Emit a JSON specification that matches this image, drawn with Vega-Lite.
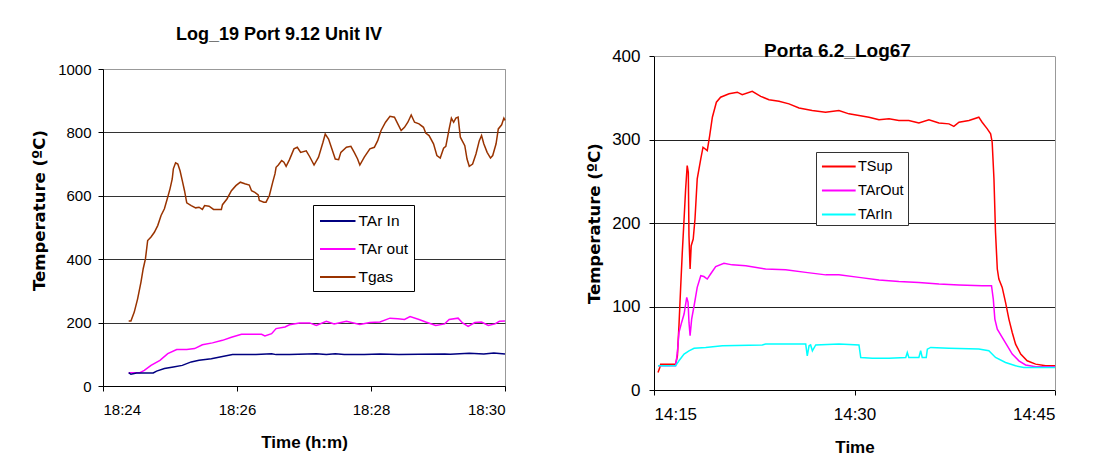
{
"$schema": "https://vega.github.io/schema/vega-lite/v6.json",
"background": "white",
"padding": {"left": 30, "top": 25, "right": 5, "bottom": 5},
"spacing": 77,
"resolve": {"scale": {"color": "independent"}},
"config": {
  "font": "Liberation Sans",
  "view": {"stroke": "#999", "strokeWidth": 1},
  "axis": {"domainColor": "#000", "tickColor": "#000", "labelColor": "#000", "titleColor": "#000", "labelFont": "Liberation Sans", "titleFont": "Liberation Sans", "titleFontWeight": "bold", "tickSize": 5},
  "title": {"font": "Liberation Sans", "fontWeight": "bold", "color": "#000"},
  "legend": {"strokeColor": "#000", "fillColor": "#fff", "padding": 5, "symbolType": "M-0.9,0H2.65", "symbolStrokeWidth": 2, "labelFont": "Liberation Sans", "labelColor": "#000"}
},
"hconcat": [
{
  "width": 402, "height": 317,
  "title": {"text": "Log_19 Port 9.12 Unit IV", "fontSize": 18, "dx": -25, "offset": 18},
  "data": {"values": [
{"t":"2000-01-01T18:24:23","s":"Tgas","v":205},{"t":"2000-01-01T18:24:25","s":"Tgas","v":205},{"t":"2000-01-01T18:24:28","s":"Tgas","v":233},{"t":"2000-01-01T18:24:31","s":"Tgas","v":275},{"t":"2000-01-01T18:24:34","s":"Tgas","v":328},{"t":"2000-01-01T18:24:36","s":"Tgas","v":370},{"t":"2000-01-01T18:24:38","s":"Tgas","v":401},{"t":"2000-01-01T18:24:40","s":"Tgas","v":459},{"t":"2000-01-01T18:24:43","s":"Tgas","v":470},{"t":"2000-01-01T18:24:46","s":"Tgas","v":485},{"t":"2000-01-01T18:24:49","s":"Tgas","v":506},{"t":"2000-01-01T18:24:52","s":"Tgas","v":538},{"t":"2000-01-01T18:24:55","s":"Tgas","v":559},{"t":"2000-01-01T18:24:58","s":"Tgas","v":596},{"t":"2000-01-01T18:25:00","s":"Tgas","v":622},{"t":"2000-01-01T18:25:02","s":"Tgas","v":653},{"t":"2000-01-01T18:25:03","s":"Tgas","v":685},{"t":"2000-01-01T18:25:05","s":"Tgas","v":704},{"t":"2000-01-01T18:25:07","s":"Tgas","v":700},{"t":"2000-01-01T18:25:09","s":"Tgas","v":679},{"t":"2000-01-01T18:25:11","s":"Tgas","v":648},{"t":"2000-01-01T18:25:13","s":"Tgas","v":616},{"t":"2000-01-01T18:25:15","s":"Tgas","v":578},{"t":"2000-01-01T18:25:19","s":"Tgas","v":569},{"t":"2000-01-01T18:25:23","s":"Tgas","v":562},{"t":"2000-01-01T18:25:26","s":"Tgas","v":564},{"t":"2000-01-01T18:25:29","s":"Tgas","v":557},{"t":"2000-01-01T18:25:31","s":"Tgas","v":569},{"t":"2000-01-01T18:25:35","s":"Tgas","v":567},{"t":"2000-01-01T18:25:39","s":"Tgas","v":557},{"t":"2000-01-01T18:25:43","s":"Tgas","v":557},{"t":"2000-01-01T18:25:46","s":"Tgas","v":557},{"t":"2000-01-01T18:25:47","s":"Tgas","v":572},{"t":"2000-01-01T18:25:51","s":"Tgas","v":590},{"t":"2000-01-01T18:25:55","s":"Tgas","v":616},{"t":"2000-01-01T18:25:59","s":"Tgas","v":632},{"t":"2000-01-01T18:26:03","s":"Tgas","v":643},{"t":"2000-01-01T18:26:07","s":"Tgas","v":638},{"t":"2000-01-01T18:26:11","s":"Tgas","v":634},{"t":"2000-01-01T18:26:13","s":"Tgas","v":616},{"t":"2000-01-01T18:26:16","s":"Tgas","v":611},{"t":"2000-01-01T18:26:19","s":"Tgas","v":603},{"t":"2000-01-01T18:26:20","s":"Tgas","v":585},{"t":"2000-01-01T18:26:24","s":"Tgas","v":580},{"t":"2000-01-01T18:26:26","s":"Tgas","v":580},{"t":"2000-01-01T18:26:29","s":"Tgas","v":601},{"t":"2000-01-01T18:26:32","s":"Tgas","v":643},{"t":"2000-01-01T18:26:34","s":"Tgas","v":669},{"t":"2000-01-01T18:26:35","s":"Tgas","v":690},{"t":"2000-01-01T18:26:37","s":"Tgas","v":697},{"t":"2000-01-01T18:26:40","s":"Tgas","v":711},{"t":"2000-01-01T18:26:42","s":"Tgas","v":706},{"t":"2000-01-01T18:26:44","s":"Tgas","v":693},{"t":"2000-01-01T18:26:47","s":"Tgas","v":714},{"t":"2000-01-01T18:26:51","s":"Tgas","v":748},{"t":"2000-01-01T18:26:54","s":"Tgas","v":753},{"t":"2000-01-01T18:26:57","s":"Tgas","v":737},{"t":"2000-01-01T18:27:02","s":"Tgas","v":742},{"t":"2000-01-01T18:27:05","s":"Tgas","v":724},{"t":"2000-01-01T18:27:09","s":"Tgas","v":697},{"t":"2000-01-01T18:27:13","s":"Tgas","v":722},{"t":"2000-01-01T18:27:17","s":"Tgas","v":769},{"t":"2000-01-01T18:27:19","s":"Tgas","v":795},{"t":"2000-01-01T18:27:22","s":"Tgas","v":779},{"t":"2000-01-01T18:27:25","s":"Tgas","v":748},{"t":"2000-01-01T18:27:28","s":"Tgas","v":716},{"t":"2000-01-01T18:27:31","s":"Tgas","v":714},{"t":"2000-01-01T18:27:33","s":"Tgas","v":737},{"t":"2000-01-01T18:27:38","s":"Tgas","v":753},{"t":"2000-01-01T18:27:42","s":"Tgas","v":756},{"t":"2000-01-01T18:27:45","s":"Tgas","v":737},{"t":"2000-01-01T18:27:48","s":"Tgas","v":716},{"t":"2000-01-01T18:27:50","s":"Tgas","v":697},{"t":"2000-01-01T18:27:54","s":"Tgas","v":722},{"t":"2000-01-01T18:27:59","s":"Tgas","v":748},{"t":"2000-01-01T18:28:03","s":"Tgas","v":753},{"t":"2000-01-01T18:28:06","s":"Tgas","v":774},{"t":"2000-01-01T18:28:09","s":"Tgas","v":806},{"t":"2000-01-01T18:28:13","s":"Tgas","v":832},{"t":"2000-01-01T18:28:17","s":"Tgas","v":851},{"t":"2000-01-01T18:28:21","s":"Tgas","v":848},{"t":"2000-01-01T18:28:24","s":"Tgas","v":827},{"t":"2000-01-01T18:28:27","s":"Tgas","v":806},{"t":"2000-01-01T18:28:30","s":"Tgas","v":816},{"t":"2000-01-01T18:28:33","s":"Tgas","v":832},{"t":"2000-01-01T18:28:36","s":"Tgas","v":855},{"t":"2000-01-01T18:28:39","s":"Tgas","v":832},{"t":"2000-01-01T18:28:43","s":"Tgas","v":827},{"t":"2000-01-01T18:28:47","s":"Tgas","v":816},{"t":"2000-01-01T18:28:49","s":"Tgas","v":798},{"t":"2000-01-01T18:28:52","s":"Tgas","v":790},{"t":"2000-01-01T18:28:56","s":"Tgas","v":764},{"t":"2000-01-01T18:28:59","s":"Tgas","v":727},{"t":"2000-01-01T18:29:02","s":"Tgas","v":719},{"t":"2000-01-01T18:29:05","s":"Tgas","v":750},{"t":"2000-01-01T18:29:07","s":"Tgas","v":756},{"t":"2000-01-01T18:29:10","s":"Tgas","v":811},{"t":"2000-01-01T18:29:12","s":"Tgas","v":845},{"t":"2000-01-01T18:29:14","s":"Tgas","v":832},{"t":"2000-01-01T18:29:16","s":"Tgas","v":845},{"t":"2000-01-01T18:29:18","s":"Tgas","v":848},{"t":"2000-01-01T18:29:20","s":"Tgas","v":785},{"t":"2000-01-01T18:29:24","s":"Tgas","v":758},{"t":"2000-01-01T18:29:26","s":"Tgas","v":716},{"t":"2000-01-01T18:29:28","s":"Tgas","v":693},{"t":"2000-01-01T18:29:31","s":"Tgas","v":700},{"t":"2000-01-01T18:29:34","s":"Tgas","v":732},{"t":"2000-01-01T18:29:37","s":"Tgas","v":774},{"t":"2000-01-01T18:29:39","s":"Tgas","v":790},{"t":"2000-01-01T18:29:41","s":"Tgas","v":764},{"t":"2000-01-01T18:29:44","s":"Tgas","v":737},{"t":"2000-01-01T18:29:47","s":"Tgas","v":719},{"t":"2000-01-01T18:29:49","s":"Tgas","v":727},{"t":"2000-01-01T18:29:52","s":"Tgas","v":764},{"t":"2000-01-01T18:29:54","s":"Tgas","v":811},{"t":"2000-01-01T18:29:57","s":"Tgas","v":824},{"t":"2000-01-01T18:29:59","s":"Tgas","v":845},{"t":"2000-01-01T18:30:00","s":"Tgas","v":838},
{"t":"2000-01-01T18:24:23","s":"TAr out","v":42},{"t":"2000-01-01T18:24:33","s":"TAr out","v":42},{"t":"2000-01-01T18:24:37","s":"TAr out","v":49},{"t":"2000-01-01T18:24:43","s":"TAr out","v":65},{"t":"2000-01-01T18:24:51","s":"TAr out","v":81},{"t":"2000-01-01T18:24:58","s":"TAr out","v":102},{"t":"2000-01-01T18:25:06","s":"TAr out","v":115},{"t":"2000-01-01T18:25:15","s":"TAr out","v":115},{"t":"2000-01-01T18:25:22","s":"TAr out","v":118},{"t":"2000-01-01T18:25:29","s":"TAr out","v":130},{"t":"2000-01-01T18:25:38","s":"TAr out","v":136},{"t":"2000-01-01T18:25:47","s":"TAr out","v":144},{"t":"2000-01-01T18:25:55","s":"TAr out","v":154},{"t":"2000-01-01T18:26:04","s":"TAr out","v":163},{"t":"2000-01-01T18:26:22","s":"TAr out","v":163},{"t":"2000-01-01T18:26:25","s":"TAr out","v":158},{"t":"2000-01-01T18:26:31","s":"TAr out","v":165},{"t":"2000-01-01T18:26:35","s":"TAr out","v":181},{"t":"2000-01-01T18:26:43","s":"TAr out","v":186},{"t":"2000-01-01T18:26:47","s":"TAr out","v":193},{"t":"2000-01-01T18:26:56","s":"TAr out","v":199},{"t":"2000-01-01T18:27:05","s":"TAr out","v":199},{"t":"2000-01-01T18:27:11","s":"TAr out","v":191},{"t":"2000-01-01T18:27:20","s":"TAr out","v":204},{"t":"2000-01-01T18:27:27","s":"TAr out","v":196},{"t":"2000-01-01T18:27:38","s":"TAr out","v":204},{"t":"2000-01-01T18:27:50","s":"TAr out","v":194},{"t":"2000-01-01T18:27:59","s":"TAr out","v":200},{"t":"2000-01-01T18:28:08","s":"TAr out","v":202},{"t":"2000-01-01T18:28:17","s":"TAr out","v":214},{"t":"2000-01-01T18:28:24","s":"TAr out","v":212},{"t":"2000-01-01T18:28:30","s":"TAr out","v":210},{"t":"2000-01-01T18:28:35","s":"TAr out","v":219},{"t":"2000-01-01T18:28:43","s":"TAr out","v":210},{"t":"2000-01-01T18:28:49","s":"TAr out","v":202},{"t":"2000-01-01T18:28:58","s":"TAr out","v":191},{"t":"2000-01-01T18:29:06","s":"TAr out","v":196},{"t":"2000-01-01T18:29:10","s":"TAr out","v":210},{"t":"2000-01-01T18:29:18","s":"TAr out","v":214},{"t":"2000-01-01T18:29:22","s":"TAr out","v":199},{"t":"2000-01-01T18:29:27","s":"TAr out","v":188},{"t":"2000-01-01T18:29:33","s":"TAr out","v":200},{"t":"2000-01-01T18:29:39","s":"TAr out","v":202},{"t":"2000-01-01T18:29:45","s":"TAr out","v":191},{"t":"2000-01-01T18:29:51","s":"TAr out","v":196},{"t":"2000-01-01T18:29:55","s":"TAr out","v":204},{"t":"2000-01-01T18:30:00","s":"TAr out","v":205},
{"t":"2000-01-01T18:24:23","s":"TAr In","v":42},{"t":"2000-01-01T18:24:25","s":"TAr In","v":37},{"t":"2000-01-01T18:24:30","s":"TAr In","v":41},{"t":"2000-01-01T18:24:45","s":"TAr In","v":41},{"t":"2000-01-01T18:24:48","s":"TAr In","v":47},{"t":"2000-01-01T18:24:55","s":"TAr In","v":55},{"t":"2000-01-01T18:25:03","s":"TAr In","v":60},{"t":"2000-01-01T18:25:11","s":"TAr In","v":65},{"t":"2000-01-01T18:25:19","s":"TAr In","v":76},{"t":"2000-01-01T18:25:26","s":"TAr In","v":81},{"t":"2000-01-01T18:25:37","s":"TAr In","v":86},{"t":"2000-01-01T18:25:47","s":"TAr In","v":93},{"t":"2000-01-01T18:25:56","s":"TAr In","v":99},{"t":"2000-01-01T18:26:17","s":"TAr In","v":99},{"t":"2000-01-01T18:26:31","s":"TAr In","v":102},{"t":"2000-01-01T18:26:35","s":"TAr In","v":99},{"t":"2000-01-01T18:26:47","s":"TAr In","v":99},{"t":"2000-01-01T18:27:11","s":"TAr In","v":102},{"t":"2000-01-01T18:27:20","s":"TAr In","v":99},{"t":"2000-01-01T18:27:28","s":"TAr In","v":102},{"t":"2000-01-01T18:27:36","s":"TAr In","v":99},{"t":"2000-01-01T18:27:54","s":"TAr In","v":99},{"t":"2000-01-01T18:28:08","s":"TAr In","v":101},{"t":"2000-01-01T18:28:25","s":"TAr In","v":99},{"t":"2000-01-01T18:28:43","s":"TAr In","v":100},{"t":"2000-01-01T18:29:06","s":"TAr In","v":101},{"t":"2000-01-01T18:29:11","s":"TAr In","v":100},{"t":"2000-01-01T18:29:28","s":"TAr In","v":103},{"t":"2000-01-01T18:29:41","s":"TAr In","v":101},{"t":"2000-01-01T18:29:50","s":"TAr In","v":104},{"t":"2000-01-01T18:30:00","s":"TAr In","v":101}
  ]},
  "mark": {"type": "line", "strokeWidth": 1.5},
  "encoding": {
    "x": {"field": "t", "type": "temporal",
      "scale": {"domain": [{"year": 2000, "month": 1, "date": 1, "hours": 18, "minutes": 24}, {"year": 2000, "month": 1, "date": 1, "hours": 18, "minutes": 30}], "nice": false},
      "axis": {"title": "Time (h:m)", "format": "%H:%M", "grid": false, "labelFontSize": 15, "titleFontSize": 17, "labelPadding": 11, "titlePadding": 17,
        "values": [{"year": 2000, "month": 1, "date": 1, "hours": 18, "minutes": 24}, {"year": 2000, "month": 1, "date": 1, "hours": 18, "minutes": 26}, {"year": 2000, "month": 1, "date": 1, "hours": 18, "minutes": 28}, {"year": 2000, "month": 1, "date": 1, "hours": 18, "minutes": 30}]}},
    "y": {"field": "v", "type": "quantitative",
      "scale": {"domain": [0, 1000], "nice": false},
      "axis": {"title": "Temperature (ºC)", "titleFont": "DejaVu Sans", "values": [0, 200, 400, 600, 800, 1000], "format": "d", "labelFontSize": 15, "titleFontSize": 16.5, "labelPadding": 7, "titlePadding": 10.5, "titleY": 141,
        "gridColor": {"condition": {"test": "datum.value === 1000", "value": "#999"}, "value": "#333"}}},
    "color": {"field": "s", "type": "nominal",
      "scale": {"domain": ["TAr In", "TAr out", "Tgas"], "range": ["#000080", "#FF00FF", "#993300"]},
      "legend": {"title": null, "orient": "none", "legendX": 210, "legendY": 136, "symbolSize": 400, "rowPadding": 8, "labelOffset": 18.5, "labelFontSize": 15.5}}
  }
},
{
  "width": 401, "height": 321,
  "view": {"stroke": null},
  "title": {"text": "Porta 6.2_Log67", "fontSize": 19, "dx": -17, "offset": -13.5},
  "data": {"values": [
{"t":"2000-01-01T14:15:18","s":"TSup","v":21},{"t":"2000-01-01T14:15:26","s":"TSup","v":27},{"t":"2000-01-01T14:15:30","s":"TSup","v":31},{"t":"2000-01-01T14:16:37","s":"TSup","v":31},{"t":"2000-01-01T14:16:45","s":"TSup","v":41},{"t":"2000-01-01T14:16:52","s":"TSup","v":77},{"t":"2000-01-01T14:17:00","s":"TSup","v":125},{"t":"2000-01-01T14:17:07","s":"TSup","v":165},{"t":"2000-01-01T14:17:15","s":"TSup","v":205},{"t":"2000-01-01T14:17:22","s":"TSup","v":241},{"t":"2000-01-01T14:17:29","s":"TSup","v":269},{"t":"2000-01-01T14:17:34","s":"TSup","v":261},{"t":"2000-01-01T14:17:37","s":"TSup","v":185},{"t":"2000-01-01T14:17:42","s":"TSup","v":145},{"t":"2000-01-01T14:17:47","s":"TSup","v":173},{"t":"2000-01-01T14:17:56","s":"TSup","v":181},{"t":"2000-01-01T14:18:04","s":"TSup","v":205},{"t":"2000-01-01T14:18:14","s":"TSup","v":253},{"t":"2000-01-01T14:18:30","s":"TSup","v":277},{"t":"2000-01-01T14:18:40","s":"TSup","v":291},{"t":"2000-01-01T14:18:59","s":"TSup","v":287},{"t":"2000-01-01T14:19:10","s":"TSup","v":305},{"t":"2000-01-01T14:19:22","s":"TSup","v":327},{"t":"2000-01-01T14:19:40","s":"TSup","v":345},{"t":"2000-01-01T14:19:59","s":"TSup","v":351},{"t":"2000-01-01T14:20:37","s":"TSup","v":355},{"t":"2000-01-01T14:21:14","s":"TSup","v":357},{"t":"2000-01-01T14:21:36","s":"TSup","v":354},{"t":"2000-01-01T14:22:21","s":"TSup","v":358},{"t":"2000-01-01T14:22:59","s":"TSup","v":352},{"t":"2000-01-01T14:23:36","s":"TSup","v":348},{"t":"2000-01-01T14:24:21","s":"TSup","v":346},{"t":"2000-01-01T14:25:06","s":"TSup","v":343},{"t":"2000-01-01T14:25:51","s":"TSup","v":338},{"t":"2000-01-01T14:26:50","s":"TSup","v":335},{"t":"2000-01-01T14:27:50","s":"TSup","v":333},{"t":"2000-01-01T14:28:50","s":"TSup","v":335},{"t":"2000-01-01T14:29:35","s":"TSup","v":331},{"t":"2000-01-01T14:30:20","s":"TSup","v":329},{"t":"2000-01-01T14:31:05","s":"TSup","v":327},{"t":"2000-01-01T14:31:50","s":"TSup","v":324},{"t":"2000-01-01T14:32:35","s":"TSup","v":325},{"t":"2000-01-01T14:33:19","s":"TSup","v":323},{"t":"2000-01-01T14:34:04","s":"TSup","v":323},{"t":"2000-01-01T14:34:49","s":"TSup","v":320},{"t":"2000-01-01T14:35:34","s":"TSup","v":324},{"t":"2000-01-01T14:36:19","s":"TSup","v":320},{"t":"2000-01-01T14:37:04","s":"TSup","v":319},{"t":"2000-01-01T14:37:26","s":"TSup","v":316},{"t":"2000-01-01T14:37:49","s":"TSup","v":321},{"t":"2000-01-01T14:38:34","s":"TSup","v":323},{"t":"2000-01-01T14:39:18","s":"TSup","v":327},{"t":"2000-01-01T14:39:33","s":"TSup","v":321},{"t":"2000-01-01T14:39:56","s":"TSup","v":313},{"t":"2000-01-01T14:40:11","s":"TSup","v":307},{"t":"2000-01-01T14:40:18","s":"TSup","v":297},{"t":"2000-01-01T14:40:26","s":"TSup","v":253},{"t":"2000-01-01T14:40:33","s":"TSup","v":189},{"t":"2000-01-01T14:40:41","s":"TSup","v":145},{"t":"2000-01-01T14:40:48","s":"TSup","v":133},{"t":"2000-01-01T14:41:03","s":"TSup","v":123},{"t":"2000-01-01T14:41:18","s":"TSup","v":105},{"t":"2000-01-01T14:41:33","s":"TSup","v":85},{"t":"2000-01-01T14:41:48","s":"TSup","v":69},{"t":"2000-01-01T14:42:03","s":"TSup","v":55},{"t":"2000-01-01T14:42:26","s":"TSup","v":43},{"t":"2000-01-01T14:42:55","s":"TSup","v":35},{"t":"2000-01-01T14:43:33","s":"TSup","v":31},{"t":"2000-01-01T14:44:18","s":"TSup","v":29},{"t":"2000-01-01T14:45:00","s":"TSup","v":29},
{"t":"2000-01-01T14:15:18","s":"TArOut","v":29},{"t":"2000-01-01T14:16:37","s":"TArOut","v":29},{"t":"2000-01-01T14:16:45","s":"TArOut","v":45},{"t":"2000-01-01T14:16:52","s":"TArOut","v":69},{"t":"2000-01-01T14:17:04","s":"TArOut","v":81},{"t":"2000-01-01T14:17:15","s":"TArOut","v":91},{"t":"2000-01-01T14:17:27","s":"TArOut","v":111},{"t":"2000-01-01T14:17:33","s":"TArOut","v":105},{"t":"2000-01-01T14:17:37","s":"TArOut","v":81},{"t":"2000-01-01T14:17:42","s":"TArOut","v":65},{"t":"2000-01-01T14:17:49","s":"TArOut","v":85},{"t":"2000-01-01T14:18:00","s":"TArOut","v":101},{"t":"2000-01-01T14:18:14","s":"TArOut","v":123},{"t":"2000-01-01T14:18:30","s":"TArOut","v":137},{"t":"2000-01-01T14:18:44","s":"TArOut","v":136},{"t":"2000-01-01T14:18:59","s":"TArOut","v":133},{"t":"2000-01-01T14:19:14","s":"TArOut","v":139},{"t":"2000-01-01T14:19:37","s":"TArOut","v":148},{"t":"2000-01-01T14:20:14","s":"TArOut","v":152},{"t":"2000-01-01T14:20:51","s":"TArOut","v":150},{"t":"2000-01-01T14:21:52","s":"TArOut","v":149},{"t":"2000-01-01T14:23:21","s":"TArOut","v":145},{"t":"2000-01-01T14:24:51","s":"TArOut","v":144},{"t":"2000-01-01T14:26:21","s":"TArOut","v":141},{"t":"2000-01-01T14:27:51","s":"TArOut","v":138},{"t":"2000-01-01T14:28:50","s":"TArOut","v":138},{"t":"2000-01-01T14:30:20","s":"TArOut","v":135},{"t":"2000-01-01T14:31:50","s":"TArOut","v":132},{"t":"2000-01-01T14:33:19","s":"TArOut","v":130},{"t":"2000-01-01T14:34:49","s":"TArOut","v":129},{"t":"2000-01-01T14:36:19","s":"TArOut","v":127},{"t":"2000-01-01T14:37:49","s":"TArOut","v":126},{"t":"2000-01-01T14:39:33","s":"TArOut","v":125},{"t":"2000-01-01T14:40:15","s":"TArOut","v":125},{"t":"2000-01-01T14:40:23","s":"TArOut","v":109},{"t":"2000-01-01T14:40:30","s":"TArOut","v":85},{"t":"2000-01-01T14:40:41","s":"TArOut","v":73},{"t":"2000-01-01T14:41:03","s":"TArOut","v":63},{"t":"2000-01-01T14:41:26","s":"TArOut","v":53},{"t":"2000-01-01T14:41:48","s":"TArOut","v":43},{"t":"2000-01-01T14:42:18","s":"TArOut","v":35},{"t":"2000-01-01T14:42:48","s":"TArOut","v":30},{"t":"2000-01-01T14:43:33","s":"TArOut","v":28},{"t":"2000-01-01T14:45:00","s":"TArOut","v":28},
{"t":"2000-01-01T14:15:18","s":"TArIn","v":29},{"t":"2000-01-01T14:16:37","s":"TArIn","v":29},{"t":"2000-01-01T14:16:52","s":"TArIn","v":35},{"t":"2000-01-01T14:17:15","s":"TArIn","v":43},{"t":"2000-01-01T14:17:37","s":"TArIn","v":47},{"t":"2000-01-01T14:18:00","s":"TArIn","v":50},{"t":"2000-01-01T14:18:52","s":"TArIn","v":51},{"t":"2000-01-01T14:20:07","s":"TArIn","v":53},{"t":"2000-01-01T14:23:06","s":"TArIn","v":54},{"t":"2000-01-01T14:23:21","s":"TArIn","v":55},{"t":"2000-01-01T14:26:13","s":"TArIn","v":55},{"t":"2000-01-01T14:26:21","s":"TArIn","v":55},{"t":"2000-01-01T14:26:28","s":"TArIn","v":41},{"t":"2000-01-01T14:26:36","s":"TArIn","v":53},{"t":"2000-01-01T14:26:43","s":"TArIn","v":54},{"t":"2000-01-01T14:26:51","s":"TArIn","v":47},{"t":"2000-01-01T14:27:06","s":"TArIn","v":54},{"t":"2000-01-01T14:28:50","s":"TArIn","v":55},{"t":"2000-01-01T14:30:20","s":"TArIn","v":54},{"t":"2000-01-01T14:30:28","s":"TArIn","v":39},{"t":"2000-01-01T14:31:20","s":"TArIn","v":38},{"t":"2000-01-01T14:32:35","s":"TArIn","v":38},{"t":"2000-01-01T14:33:50","s":"TArIn","v":39},{"t":"2000-01-01T14:33:57","s":"TArIn","v":45},{"t":"2000-01-01T14:34:04","s":"TArIn","v":39},{"t":"2000-01-01T14:34:49","s":"TArIn","v":39},{"t":"2000-01-01T14:34:57","s":"TArIn","v":47},{"t":"2000-01-01T14:35:04","s":"TArIn","v":39},{"t":"2000-01-01T14:35:22","s":"TArIn","v":39},{"t":"2000-01-01T14:35:27","s":"TArIn","v":49},{"t":"2000-01-01T14:35:42","s":"TArIn","v":51},{"t":"2000-01-01T14:37:04","s":"TArIn","v":50},{"t":"2000-01-01T14:39:18","s":"TArIn","v":49},{"t":"2000-01-01T14:40:03","s":"TArIn","v":47},{"t":"2000-01-01T14:40:33","s":"TArIn","v":39},{"t":"2000-01-01T14:41:18","s":"TArIn","v":33},{"t":"2000-01-01T14:42:03","s":"TArIn","v":29},{"t":"2000-01-01T14:42:40","s":"TArIn","v":27},{"t":"2000-01-01T14:45:00","s":"TArIn","v":27}
  ]},
  "encoding": {
    "x": {"field": "t", "type": "temporal",
      "scale": {"domain": [{"year": 2000, "month": 1, "date": 1, "hours": 14, "minutes": 15}, {"year": 2000, "month": 1, "date": 1, "hours": 14, "minutes": 45}], "nice": false},
      "axis": {"title": "Time", "format": "%H:%M", "grid": false, "labelFontSize": 17, "titleFontSize": 17, "labelPadding": 11, "titlePadding": 17,
        "values": [{"year": 2000, "month": 1, "date": 1, "hours": 14, "minutes": 15}, {"year": 2000, "month": 1, "date": 1, "hours": 14, "minutes": 30}, {"year": 2000, "month": 1, "date": 1, "hours": 14, "minutes": 45}]}},
    "color": {"field": "s", "type": "nominal",
      "scale": {"domain": ["TSup", "TArOut", "TArIn"], "range": ["#FF0000", "#FF00FF", "#00FFFF"]},
      "legend": {"title": null, "orient": "none", "legendX": 162, "legendY": 83, "padding": 4, "symbolSize": 361, "rowPadding": 7, "labelOffset": 17, "labelFontSize": 14.5, "strokeColor": "#333"}}
  },
  "layer": [
    {
      "transform": [{"filter": "datum.s !== 'TArIn'"}],
      "mark": {"type": "line", "strokeWidth": 1.5},
      "encoding": {
        "y": {"field": "v", "type": "quantitative",
          "scale": {"domain": [0, 400], "nice": false, "range": ["height", -12.7]},
          "axis": {"title": "Temperature (ºC)", "orient": "left", "titleFont": "DejaVu Sans", "values": [0, 100, 200, 300, 400], "format": "d", "labelFontSize": 17, "titleFontSize": 16.5, "labelPadding": 9, "titlePadding": 9,
            "gridColor": {"condition": {"test": "datum.value === 400", "value": "#999"}, "value": "#222"}}}
      }
    },
    {
      "transform": [{"filter": "datum.s === 'TArIn'"}],
      "mark": {"type": "line", "strokeWidth": 1.5},
      "encoding": {
        "y": {"field": "v", "type": "quantitative",
          "scale": {"domain": [0, 400], "nice": false, "range": ["height", -12.7]},
          "axis": {"title": null, "orient": "right", "labels": false, "ticks": false, "grid": false, "domainColor": "#999"}}
      }
    }
  ],
  "resolve": {"axis": {"y": "independent"}}
}
]
}
